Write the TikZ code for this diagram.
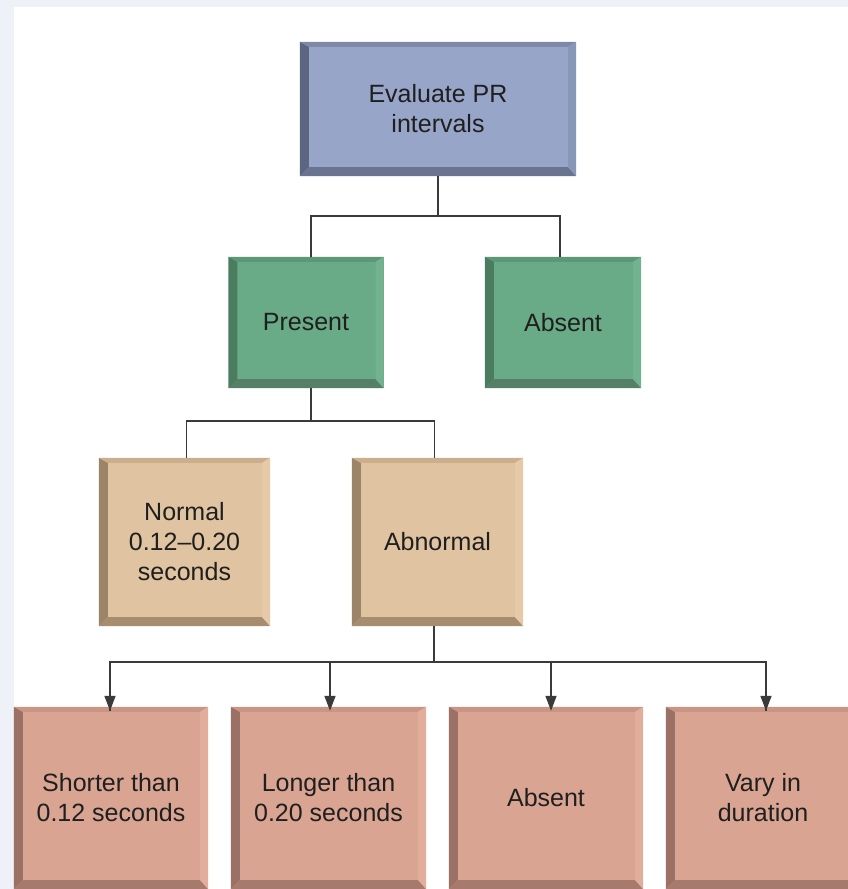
\documentclass[tikz,border=0pt]{standalone}
\usepackage{fontspec}
\setmainfont{Liberation Sans}
\usetikzlibrary{arrows.meta}
\definecolor{bgblue}{HTML}{EEF1F8}
\definecolor{blueface}{HTML}{97A5C8}
\definecolor{bluedark}{HTML}{5C6683}
\definecolor{bluebot}{HTML}{6A7491}
\definecolor{bluetop}{HTML}{7E89A8}
\definecolor{blueright}{HTML}{8896B8}
\definecolor{greenface}{HTML}{68AB86}
\definecolor{greendark}{HTML}{4B7C60}
\definecolor{greenbot}{HTML}{557F67}
\definecolor{greentop}{HTML}{5C9877}
\definecolor{greenright}{HTML}{72B28E}
\definecolor{tanface}{HTML}{E0C3A0}
\definecolor{tandark}{HTML}{9C8468}
\definecolor{tanbot}{HTML}{A68D70}
\definecolor{tantop}{HTML}{CBAE8C}
\definecolor{tanright}{HTML}{E6CAA8}
\definecolor{salface}{HTML}{D9A592}
\definecolor{saldark}{HTML}{9C7165}
\definecolor{salbot}{HTML}{A67A6C}
\definecolor{saltop}{HTML}{C99585}
\definecolor{salright}{HTML}{E2AE9B}
\definecolor{linegray}{HTML}{3A3A3A}
\newcommand{\bevelbox}[5]{%
  % #1 name, #2 left, #3 bottom, #4 top, #5 right
  \fill[#2] (#1.north west) -- (#1.south west) -- ([xshift=9pt,yshift=9pt]#1.south west) -- ([xshift=9pt,yshift=-5pt]#1.north west) -- cycle;
  \fill[#3] (#1.south west) -- (#1.south east) -- ([xshift=-8pt,yshift=9pt]#1.south east) -- ([xshift=9pt,yshift=9pt]#1.south west) -- cycle;
  \fill[#4] (#1.north west) -- (#1.north east) -- ([xshift=-8pt,yshift=-5pt]#1.north east) -- ([xshift=9pt,yshift=-5pt]#1.north west) -- cycle;
  \fill[#5] (#1.north east) -- (#1.south east) -- ([xshift=-8pt,yshift=9pt]#1.south east) -- ([xshift=-8pt,yshift=-5pt]#1.north east) -- cycle;
}
\tikzset{
  boxbase/.style={rectangle, inner sep=0pt, align=center, font=\fontsize{25}{30}\selectfont, text=black!88},
  bluebox/.style={boxbase, fill=blueface},
  greenbox/.style={boxbase, fill=greenface},
  tanbox/.style={boxbase, fill=tanface},
  salbox/.style={boxbase, fill=salface},
  conn/.style={draw=linegray, line width=1.5pt},
  arr/.style={conn, -{Triangle[length=15pt,width=11pt]}},
}
\begin{document}
\begin{tikzpicture}[x=1pt,y=-1pt]
\useasboundingbox (0,0) rectangle (848,889);
\fill[bgblue] (0,0) rectangle (848,889);
\fill[white] (14,7) rectangle (848,889);
\begin{scope}
\clip (0,0) rectangle (848,889);
\node[bluebox, minimum width=276pt, minimum height=134pt] (top) at (438,109) {Evaluate PR\\intervals};
\node[greenbox, minimum width=155pt, minimum height=131pt] (present) at (306,322.5) {Present};
\node[greenbox, minimum width=156pt, minimum height=131pt] (absent) at (563,322.5) {Absent};
\node[tanbox, minimum width=171pt, minimum height=168pt] (normal) at (184.5,542) {Normal\\0.12--0.20\\seconds};
\node[tanbox, minimum width=171pt, minimum height=168pt] (abnormal) at (437.5,542) {Abnormal};
\node[salbox, minimum width=194pt, minimum height=182pt] (shorter) at (111,798) {Shorter than\\0.12 seconds};
\node[salbox, minimum width=195pt, minimum height=182pt] (longer) at (328.5,798) {Longer than\\0.20 seconds};
\node[salbox, minimum width=194pt, minimum height=182pt] (absent2) at (546,798) {Absent};
\node[salbox, minimum width=194pt, minimum height=182pt] (vary) at (763,798) {Vary in\\duration};
\bevelbox{top}{bluedark}{bluebot}{bluetop}{blueright}
\bevelbox{present}{greendark}{greenbot}{greentop}{greenright}
\bevelbox{absent}{greendark}{greenbot}{greentop}{greenright}
\bevelbox{normal}{tandark}{tanbot}{tantop}{tanright}
\bevelbox{abnormal}{tandark}{tanbot}{tantop}{tanright}
\bevelbox{shorter}{saldark}{salbot}{saltop}{salright}
\bevelbox{longer}{saldark}{salbot}{saltop}{salright}
\bevelbox{absent2}{saldark}{salbot}{saltop}{salright}
\bevelbox{vary}{saldark}{salbot}{saltop}{salright}
\end{scope}
% connectors
\coordinate (j1) at (438,216);
\coordinate (j2) at (311,421);
\coordinate (j3) at (434,662);
\draw[conn] (top.south) -- (j1);
\draw[conn] ([xshift=5pt]present.north) |- (j1) -| ([xshift=-3pt]absent.north);
\draw[conn] ([xshift=5pt]present.south) -- (j2);
\draw[conn] ([xshift=2pt]normal.north) |- (j2) -| ([xshift=-3pt]abnormal.north);
\draw[conn] ([xshift=-3.5pt]abnormal.south) -- (j3);
\draw[conn] ([xshift=-1pt,yshift=-4pt]shorter.north) |- (j3) -| ([xshift=3pt,yshift=-4pt]vary.north);
\draw[arr] (j3 -| shorter.north) ++(-1,0) -- ([xshift=-1pt,yshift=-4pt]shorter.north);
\draw[arr] (j3 -| longer.north) ++(1.5,0) -- ([xshift=1.5pt,yshift=-4pt]longer.north);
\draw[arr] (j3 -| absent2.north) ++(5,0) -- ([xshift=5pt,yshift=-4pt]absent2.north);
\draw[arr] (j3 -| vary.north) ++(3,0) -- ([xshift=3pt,yshift=-4pt]vary.north);
\end{tikzpicture}
\end{document}
